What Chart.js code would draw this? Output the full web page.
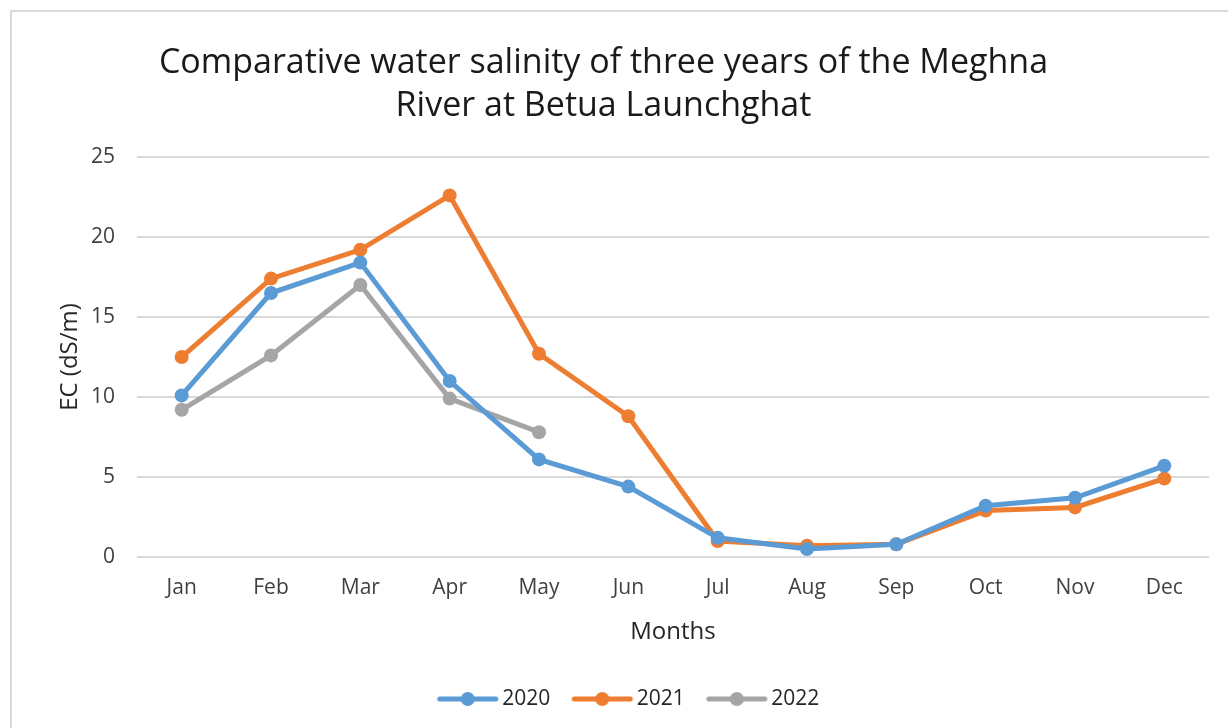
<!DOCTYPE html>
<html>
<head>
<meta charset="utf-8">
<script src="https://cdn.jsdelivr.net/npm/chart.js@4.4.1/dist/chart.umd.min.js"></script>
<style>
  html, body { margin: 0; padding: 0; background: #ffffff; }
  #wrap { position: relative; width: 1228px; height: 728px; overflow: hidden; }
  #frame { position: absolute; left: 10px; top: 10px; width: 1300px; height: 800px;
           border-left: 2px solid #d9d9d9; border-top: 2px solid #d9d9d9; }
  #c { position: absolute; left: 0; top: 0; }
</style>
</head>
<body>
<div id="wrap">
  <div id="frame"></div>
  <canvas id="c" width="1228" height="728"></canvas>
</div>
<script>
const months = ["Jan","Feb","Mar","Apr","May","Jun","Jul","Aug","Sep","Oct","Nov","Dec"];
const ec2020 = [10.1, 16.5, 18.4, 11.0, 6.1, 4.4, 1.2, 0.5, 0.8, 3.2, 3.7, 5.7];
const ec2021 = [12.5, 17.4, 19.2, 22.6, 12.7, 8.8, 1.0, 0.7, 0.8, 2.9, 3.1, 4.9];
const ec2022 = [9.2, 12.6, 17.0, 9.9, 7.8, null, null, null, null, null, null, null];
const yTicks = [0, 5, 10, 15, 20, 25];
const seriesNames = ["2020", "2021", "2022"];
const seriesColors = ["#5B9BD5", "#ED7D31", "#A5A5A5"];

function legendIcon(color) {
  const cv = document.createElement('canvas');
  cv.width = 64; cv.height = 18;
  const g = cv.getContext('2d');
  g.strokeStyle = color; g.lineWidth = 5; g.lineCap = 'round';
  g.beginPath(); g.moveTo(4, 9); g.lineTo(60, 9); g.stroke();
  g.fillStyle = color;
  g.beginPath(); g.arc(32, 9, 7, 0, Math.PI * 2); g.fill();
  return cv;
}

const FONT = "'Open Sans', 'Noto Sans', sans-serif";
const dataArrays = [ec2020, ec2021, ec2022];

const datasets = seriesNames.map((name, i) => ({
  label: name,
  data: dataArrays[i],
  borderColor: seriesColors[i],
  backgroundColor: seriesColors[i],
  borderWidth: 5,
  pointRadius: 7,
  pointHoverRadius: 7,
  pointBorderWidth: 0,
  pointStyle: 'circle',
  tension: 0,
  spanGaps: false
}));

const shiftPlugin = {
  id: 'shiftBoxes',
  afterLayout(chart) {
    const lg = chart.legend;
    if (lg) {
      lg.left += 21; lg.right += 21;
      (lg.legendHitBoxes || []).forEach(h => { h.left += 21; });
    }
    const t = chart.titleBlock;
    if (t) { t.left -= 7; t.right -= 7; }
  }
};

new Chart(document.getElementById('c'), {
  type: 'line',
  data: { labels: months, datasets: datasets },
  plugins: [shiftPlugin],
  options: {
    responsive: false,
    animation: false,
    events: [],
    layout: { padding: { left: 12, right: 19, top: 0, bottom: 8.5 } },
    plugins: {
      title: {
        display: true,
        text: ["Comparative water salinity of three years of the Meghna", "River at Betua Launchghat"],
        color: "#1a1a1a",
        font: { family: FONT, size: 34, weight: 'normal', lineHeight: 1.265 },
        padding: { top: 41.5, bottom: 29.5 }
      },
      legend: {
        position: 'bottom',
        labels: {
          color: "#262626",
          font: { family: FONT, size: 21 },
          usePointStyle: true,
          pointStyleWidth: 48,
          padding: 28,
          generateLabels: (chart) => chart.data.datasets.map((ds, i) => ({
            text: ds.label,
            pointStyle: legendIcon(seriesColors[i]),
            fillStyle: seriesColors[i],
            strokeStyle: seriesColors[i],
            lineWidth: 0,
            hidden: false,
            datasetIndex: i,
            fontColor: "#262626"
          }))
        }
      },
      tooltip: { enabled: false }
    },
    scales: {
      x: {
        offset: true,
        grid: { display: false, drawTicks: false },
        border: { display: false },
        ticks: { color: "#404040", font: { family: FONT, size: 21 }, padding: 18, maxRotation: 0 },
        title: { display: true, text: "Months", color: "#262626",
                 font: { family: FONT, size: 24 }, padding: { top: 0, bottom: 14 } },
        afterFit: (s) => { s.height = 103.5; }
      },
      y: {
        min: 0, max: 25,
        afterBuildTicks: (s) => { s.ticks = yTicks.map(v => ({ value: v })); },
        grid: { color: "#d9d9d9", lineWidth: 2, drawTicks: false },
        border: { display: false },
        ticks: { color: "#404040", font: { family: FONT, size: 21 }, padding: 22 },
        title: { display: true, text: "EC (dS/m)", color: "#262626",
                 font: { family: FONT, size: 24 }, padding: { top: 44, bottom: 0 } },
        afterFit: (s) => { s.width = 125; }
      }
    }
  }
});
</script>
</body>
</html>
